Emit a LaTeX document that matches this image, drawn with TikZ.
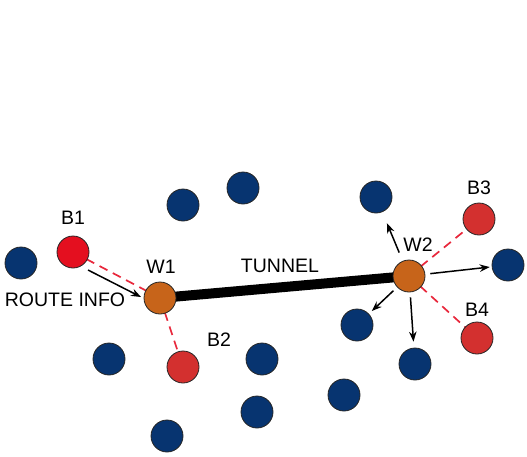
\documentclass[tikz,border=0pt]{standalone}
\usepackage{fontspec}
\setmainfont{Liberation Sans}
\usetikzlibrary{arrows.meta,backgrounds}
\definecolor{hostblue}{HTML}{073470}
\definecolor{gwbrown}{HTML}{C7641A}
\definecolor{brred}{HTML}{D3302F}
\definecolor{brbright}{HTML}{E40F1F}
\definecolor{linkred}{HTML}{E8283C}
\begin{document}
\begin{tikzpicture}[x=1pt,y=-1pt,
  host/.style={circle,draw=black!85,line width=0.8pt,minimum size=32pt,inner sep=0pt,fill=hostblue},
  branch/.style={host,fill=brred},
  gateway/.style={host,fill=gwbrown},
  lbl/.style={font=\fontsize{19.5}{19.5}\selectfont,inner sep=0pt},
  peer/.style={linkred,line width=1.7pt,dash pattern=on 9pt off 6pt},
  info/.style={-{Stealth[length=10pt,width=7.5pt]},line width=1.5pt,black,shorten <=5pt}]
\useasboundingbox (0,0) rectangle (527,456);

% plain hosts
\node[host] (h1) at (21,263) {};
\node[host] (h2) at (183,205) {};
\node[host] (h3) at (243,188) {};
\node[host] (h4) at (376,197) {};
\node[host] (h5) at (508,265) {};
\node[host] (h6) at (357,325) {};
\node[host] (h7) at (109,359) {};
\node[host] (h8) at (262,359) {};
\node[host] (h9) at (415,364) {};
\node[host] (h10) at (344,395) {};
\node[host] (h11) at (257,412) {};
\node[host] (h12) at (167,436) {};

% branches and gateways
\node[branch,fill=brbright] (b1) at (73,252) {};
\node[branch] (b2) at (183,367) {};
\node[branch] (b3) at (479,219) {};
\node[branch] (b4) at (477,338) {};
\node[gateway] (w1) at (160,298) {};
\node[gateway] (w2) at (409,276) {};

% peer links and tunnel sit behind the nodes
\begin{scope}[on background layer]
\draw[peer] (b1.center) -- (w1.center);
\draw[peer] (w1.center) -- (b2.center);
\draw[peer] (w2.center) -- (b3.center);
\draw[peer] (w2.center) -- (b4.center);
\draw[line width=10pt,black] (w1.center) -- (w2.center);
\end{scope}

% route info arrows
\coordinate (r0) at (88,270);
\coordinate (r1) at (141,297);
\draw[info,shorten <=0pt] (r0) -- (r1);
\draw[info,shorten >=12pt,shorten <=9pt] (w2) -- (h4);
\draw[info,shorten >=2pt] (w2) -- (h5);
\draw[info,shorten >=4pt] (w2) -- (h6);
\draw[info,shorten >=6pt] (w2) -- (h9);

% labels
\node[lbl] (tb1) at (73,218) {B1};
\node[lbl] (tw1) at (161,267) {W1};
\node[lbl] (tt) at (280,266) {TUNNEL};
\node[lbl] (tw2) at (418,245) {W2};
\node[lbl] (tb3) at (479,188) {B3};
\node[lbl] (tb2) at (219,340) {B2};
\node[lbl] (tb4) at (477,310) {B4};
\node[lbl] (tri) at (65,300) {ROUTE INFO};
\end{tikzpicture}
\end{document}
